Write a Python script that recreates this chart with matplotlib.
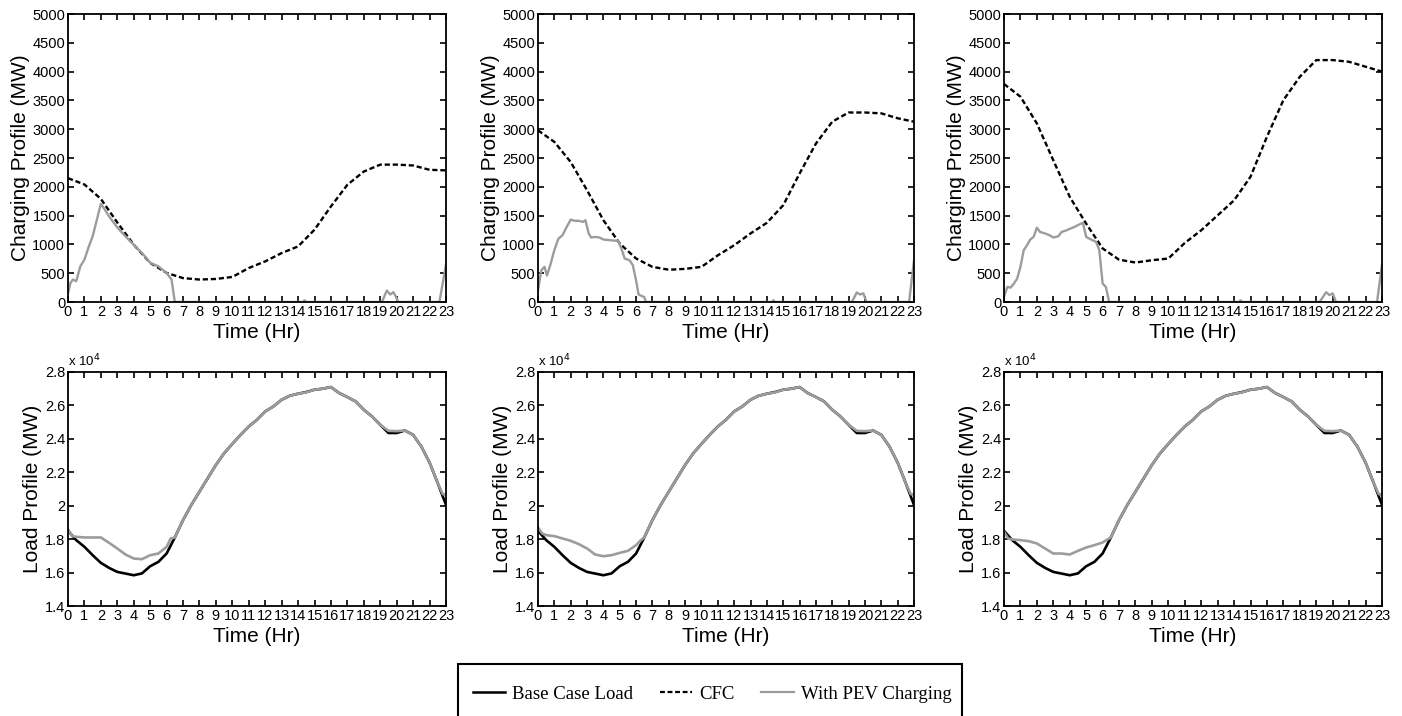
import matplotlib
matplotlib.use("Agg")
import matplotlib.pyplot as plt
from matplotlib.lines import Line2D
from matplotlib.patches import Rectangle
from matplotlib.ticker import FuncFormatter, MultipleLocator

plt.rcParams['font.family'] = ['Liberation Sans', 'DejaVu Sans']

# ---------------- data ----------------
hours = list(range(0, 24))

# CFC charging profile (MW) for the three scenarios, hourly
cfc_1 = [2150, 2040, 1790, 1380, 995, 680, 505, 415, 390, 400, 435, 590, 705, 850, 965, 1255, 1660, 2035, 2265, 2385, 2385, 2370, 2295, 2285]
cfc_2 = [2980, 2780, 2430, 1940, 1420, 1015, 755, 610, 560, 575, 610, 810, 985, 1190, 1375, 1680, 2230, 2750, 3130, 3290, 3290, 3275, 3190, 3130]
cfc_3 = [3785, 3565, 3100, 2460, 1825, 1360, 930, 735, 685, 725, 755, 1025, 1245, 1505, 1765, 2175, 2870, 3505, 3910, 4200, 4200, 4170, 4085, 4000]

# PEV charging profile (MW)
pev_t1 = [0, 0.15, 0.3, 0.5, 0.75, 1.0, 1.25, 1.5, 1.75, 2.0, 2.25, 2.5, 2.75, 3.0, 3.25, 3.5, 3.75, 4.0, 4.25, 4.5, 4.75, 5.0, 5.25, 5.5, 5.75, 6.0, 6.3, 6.5, 14.3, 14.4, 14.5, 19.1, 19.4, 19.6, 19.8, 19.9, 20.1, 22.6, 23]
pev_v1 = [150, 330, 390, 360, 620, 735, 950, 1140, 1420, 1705, 1600, 1485, 1390, 1295, 1215, 1140, 1065, 995, 920, 850, 770, 680, 650, 620, 560, 505, 390, 0, 0, 30, 0, 0, 200, 130, 170, 120, 0, 0, 650]

pev_t2 = [0, 0.2, 0.4, 0.55, 0.75, 1.0, 1.25, 1.5, 1.75, 2.0, 2.25, 2.5, 2.75, 2.9, 3.1, 3.25, 3.5, 3.75, 4.0, 4.5, 4.9, 5.1, 5.3, 5.6, 5.8, 6.0, 6.15, 6.3, 6.5, 6.6, 14.3, 14.4, 14.5, 19.2, 19.5, 19.7, 19.9, 20.1, 22.7, 23]
pev_v2 = [200, 550, 610, 460, 640, 900, 1100, 1160, 1300, 1430, 1410, 1410, 1390, 1420, 1190, 1120, 1130, 1120, 1085, 1070, 1060, 930, 755, 725, 640, 375, 130, 110, 85, 0, 0, 30, 0, 0, 165, 130, 150, 0, 0, 720]

pev_t3 = [0, 0.2, 0.4, 0.6, 0.8, 1.0, 1.2, 1.4, 1.6, 1.8, 2.0, 2.2, 2.5, 2.8, 3.0, 3.3, 3.5, 3.8, 4.0, 4.3, 4.5, 4.8, 5.0, 5.3, 5.6, 5.8, 6.0, 6.2, 6.4, 14.3, 14.4, 14.5, 19.2, 19.6, 19.8, 20.0, 20.2, 22.7, 23]
pev_v3 = [90, 260, 250, 320, 405, 610, 900, 985, 1085, 1130, 1290, 1215, 1190, 1155, 1120, 1140, 1215, 1245, 1270, 1305, 1335, 1375, 1130, 1085, 1045, 900, 320, 260, 0, 0, 30, 0, 0, 170, 120, 150, 0, 0, 650]

# Load profile (MW)
load_t = [0, 0.5, 1, 1.5, 2, 2.5, 3, 3.5, 4, 4.5, 5, 5.5, 6, 6.5, 7, 7.5, 8, 8.5, 9, 9.5, 10, 10.5, 11, 11.5, 12, 12.5, 13, 13.5, 14, 14.5, 15, 15.5, 16, 16.5, 17, 17.5, 18, 18.5, 19, 19.5, 20, 20.5, 21, 21.5, 22, 22.5, 23]
base_load = [18500, 17940, 17540, 17040, 16580, 16280, 16040, 15940, 15840, 15950, 16380, 16640, 17140, 18100, 19140, 20040, 20840, 21640, 22440, 23140, 23700, 24240, 24740, 25140, 25640, 25940, 26340, 26580, 26700, 26800, 26940, 27000, 27100, 26740, 26500, 26240, 25740, 25340, 24840, 24350, 24350, 24500, 24240, 23540, 22580, 21340, 20050]

pev_load_t = [0, 0.25, 0.5, 1, 1.5, 2, 2.5, 3, 3.5, 4, 4.5, 5, 5.5, 6, 6.25, 6.5, 7, 7.5, 8, 8.5, 9, 9.5, 10, 10.5, 11, 11.5, 12, 12.5, 13, 13.5, 14, 14.5, 15, 15.5, 16, 16.5, 17, 17.5, 18, 18.5, 19, 19.5, 20, 20.5, 21, 21.5, 22, 22.5, 22.8, 23]
tail = [19140, 20040, 20840, 21640, 22440, 23140, 23700, 24240, 24740, 25140, 25640, 25940, 26340, 26580, 26700, 26780, 26940, 27000, 27100, 26740, 26500, 26240, 25740, 25340, 24840, 24480, 24460, 24500, 24240, 23540, 22580, 21340, 20700, 20650]
pev_load_1 = [18600, 18180, 18140, 18100, 18100, 18100, 17780, 17440, 17080, 16840, 16800, 17040, 17140, 17540, 18040, 18100] + tail
pev_load_2 = [18700, 18340, 18240, 18180, 18040, 17900, 17700, 17440, 17080, 16980, 17040, 17180, 17300, 17640, 17900, 18100] + tail
pev_load_3 = [18440, 18040, 17980, 17940, 17880, 17740, 17440, 17140, 17140, 17080, 17300, 17500, 17640, 17800, 17950, 18100] + tail

cfc_sets = [cfc_1, cfc_2, cfc_3]
pev_sets = [(pev_t1, pev_v1), (pev_t2, pev_v2), (pev_t3, pev_v3)]
pev_load_sets = [pev_load_1, pev_load_2, pev_load_3]

# ---------------- figure ----------------
W, H = 1402, 716
fig = plt.figure(figsize=(W / 100, H / 100), dpi=100)

lefts = [68, 538, 1004]
widths = [378, 376, 378]
GREY = '#9c9c9c'
tick_fs = 10.5
label_fs = 15


def style_axes(ax):
    ax.set_xlim(0, 23)
    ax.xaxis.set_major_locator(MultipleLocator(1))
    ax.tick_params(direction='in', top=True, right=True, length=4, width=1.2,
                   labelsize=tick_fs, pad=2)
    for sp in ax.spines.values():
        sp.set_linewidth(1.3)
    ax.set_xlabel('Time (Hr)', fontsize=label_fs, labelpad=3)


for i in range(3):
    # top: charging profile
    ax = fig.add_axes([lefts[i] / W, 1 - 302 / H, widths[i] / W, 288 / H])
    ax.plot(hours, cfc_sets[i], color='black', lw=1.7, dashes=(2.2, 1.2))
    t, v = pev_sets[i]
    ax.plot(t, v, color=GREY, lw=1.7)
    ax.set_ylim(0, 5000)
    ax.yaxis.set_major_locator(MultipleLocator(500))
    style_axes(ax)
    ax.set_ylabel('Charging Profile (MW)', fontsize=label_fs, labelpad=2)

    # bottom: load profile
    ax2 = fig.add_axes([lefts[i] / W, 1 - 606 / H, widths[i] / W, 234 / H])
    ax2.plot(load_t, base_load, color='black', lw=1.9)
    ax2.plot(pev_load_t, pev_load_sets[i], color=GREY, lw=1.9)
    ax2.set_ylim(14000, 28000)
    ax2.yaxis.set_major_locator(MultipleLocator(2000))
    ax2.yaxis.set_major_formatter(FuncFormatter(lambda v, p: '%g' % round(v / 1e4, 2)))
    style_axes(ax2)
    ax2.set_ylabel('Load Profile (MW)', fontsize=label_fs, labelpad=2)
    ax2.text(0.0, 1.012, 'x 10$^{4}$', transform=ax2.transAxes, fontsize=9.5,
             ha='left', va='bottom')

# legend (frame drawn as a separate box that runs off the bottom edge)
handles = [Line2D([], [], color='black', lw=1.8),
           Line2D([], [], color='black', lw=1.6, dashes=(2.2, 1.2)),
           Line2D([], [], color=GREY, lw=1.6)]
labels = ['Base Case Load', 'CFC', 'With PEV Charging']
leg = fig.legend(handles, labels, loc='center', ncol=3,
                 bbox_to_anchor=(712 / W, 1 - 694 / H),
                 prop={'family': 'Liberation Serif', 'size': 13.5},
                 frameon=False, handlelength=1.75, handletextpad=0.37,
                 columnspacing=1.4, borderpad=0, borderaxespad=0)
fig.patches.append(Rectangle((458 / W, -20 / H), 504 / W, (716 + 20 - 664) / H,
                             transform=fig.transFigure, fill=False,
                             edgecolor='black', linewidth=1.5))

fig.savefig('out.png', dpi=100)
